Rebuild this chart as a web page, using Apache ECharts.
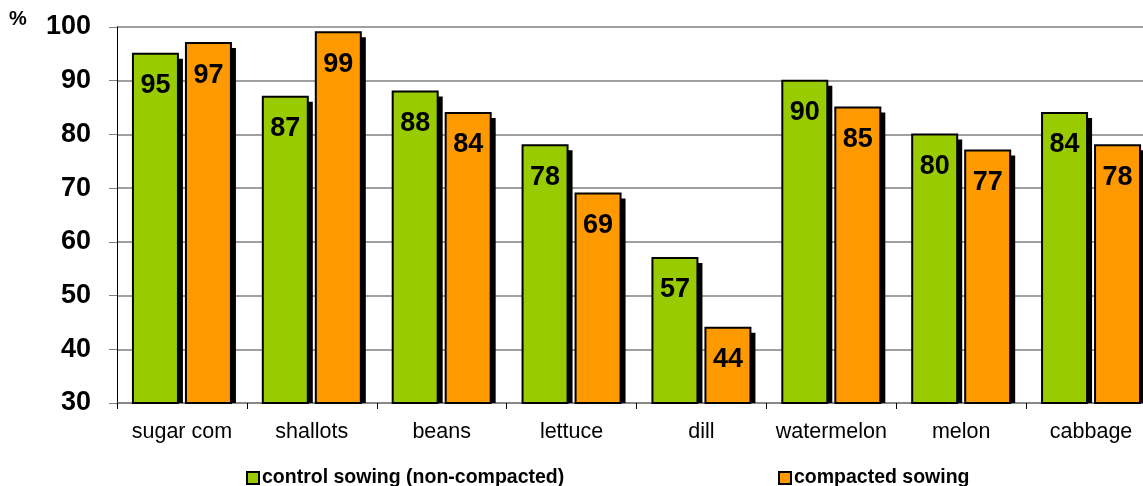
<!DOCTYPE html>
<html>
<head>
<meta charset="utf-8">
<script src="https://cdn.jsdelivr.net/npm/echarts@6/dist/echarts.min.js"></script>
<style>
  html, body { margin: 0; padding: 0; background: #ffffff; }
  #chart { width: 1143px; height: 486px; }
</style>
</head>
<body>
<div id="chart"></div>
<script>
// Germination by crop, control vs compacted sowing (%)
const categories = ['sugar com', 'shallots', 'beans', 'lettuce', 'dill', 'watermelon', 'melon', 'cabbage'];
const controlSowing = [95, 87, 88, 78, 57, 90, 80, 84];
const compactedSowing = [97, 99, 84, 69, 44, 85, 77, 78];
const seriesNames = ['control sowing (non-compacted)', 'compacted sowing'];
const yTicks = { min: 30, max: 100, step: 10 };

const FONT = '"Liberation Sans", Arial, Helvetica, sans-serif';
const COLORS = ['#99CC00', '#FF9900'];
const BAR_W = 45;
const BAR_GAP = 8;
const SHADOW = 5;

// Bar with a hard black drop shadow and the value printed near its top
function makeBarRenderer(seriesIdx) {
  return function (params, api) {
    const cat = api.value(0);
    const val = api.value(1);
    const top = api.coord([cat, val]);
    const base = api.coord([cat, yTicks.min]);
    const offset = (seriesIdx === 0 ? -1 : 1) * (BAR_W + BAR_GAP) / 2;
    const x = top[0] + offset - BAR_W / 2;
    const y = top[1];
    const h = base[1] - top[1];
    return {
      type: 'group',
      children: [
        {
          type: 'rect',
          shape: { x: x + SHADOW, y: y + SHADOW, width: BAR_W, height: Math.max(0, h - SHADOW) },
          style: { fill: '#000000' }
        },
        {
          type: 'rect',
          shape: { x: x, y: y, width: BAR_W, height: h },
          style: { fill: COLORS[seriesIdx], stroke: '#000000', lineWidth: 2 }
        },
        {
          type: 'text',
          x: x + BAR_W / 2,
          y: y + 32,
          style: {
            text: String(val),
            fill: '#000000',
            fontFamily: FONT,
            fontWeight: 'bold',
            fontSize: 27,
            align: 'center',
            verticalAlign: 'middle'
          }
        }
      ]
    };
  };
}

const legendCommon = {
  top: 463,
  itemWidth: 12,
  itemHeight: 12,
  itemGap: 2,
  icon: 'rect',
  itemStyle: { borderColor: '#000000', borderWidth: 2 },
  textStyle: { fontFamily: FONT, fontWeight: 'bold', fontSize: 19.5, color: '#000000', padding: [0, 0, 0, -2] }
};

const chart = echarts.init(document.getElementById('chart'), null, { renderer: 'canvas' });

chart.setOption({
  animation: false,
  backgroundColor: '#ffffff',
  textStyle: { fontFamily: FONT },
  // the plot runs slightly past the right edge of the canvas
  grid: { left: 117, width: 1039, top: 27, bottom: 83, containLabel: false, outerBoundsMode: 'none' },
  graphic: [{
    type: 'text',
    left: 9,
    top: 9,
    style: { text: '%', fontFamily: FONT, fontWeight: 'bold', fontSize: 20, fill: '#000000' }
  }],
  legend: [
    Object.assign({ data: [seriesNames[0]], left: 241 }, legendCommon),
    Object.assign({ data: [seriesNames[1]], left: 773 }, legendCommon)
  ],
  xAxis: {
    type: 'category',
    data: categories,
    boundaryGap: true,
    axisLine: { lineStyle: { color: '#808080', width: 1.5 } },
    axisTick: { show: true, length: 6, lineStyle: { color: '#000000' } },
    axisLabel: { interval: 0, color: '#000000', fontFamily: FONT, fontSize: 21.5, margin: 18 }
  },
  yAxis: {
    type: 'value',
    min: yTicks.min,
    max: yTicks.max,
    interval: yTicks.step,
    axisLine: { show: true, lineStyle: { color: '#000000', width: 1 } },
    axisTick: { show: true, length: 8, lineStyle: { color: '#808080' } },
    axisLabel: { color: '#000000', fontFamily: FONT, fontWeight: 'bold', fontSize: 27, margin: 26 },
    splitLine: { show: true, lineStyle: { color: '#808080', width: 1.5 } }
  },
  series: [0, 1].map((s) => ({
    name: seriesNames[s],
    type: 'custom',
    itemStyle: { color: COLORS[s] },
    encode: { x: 0, y: 1 },
    data: (s === 0 ? controlSowing : compactedSowing).map((v, i) => [i, v]),
    renderItem: makeBarRenderer(s)
  }))
});
</script>
</body>
</html>
